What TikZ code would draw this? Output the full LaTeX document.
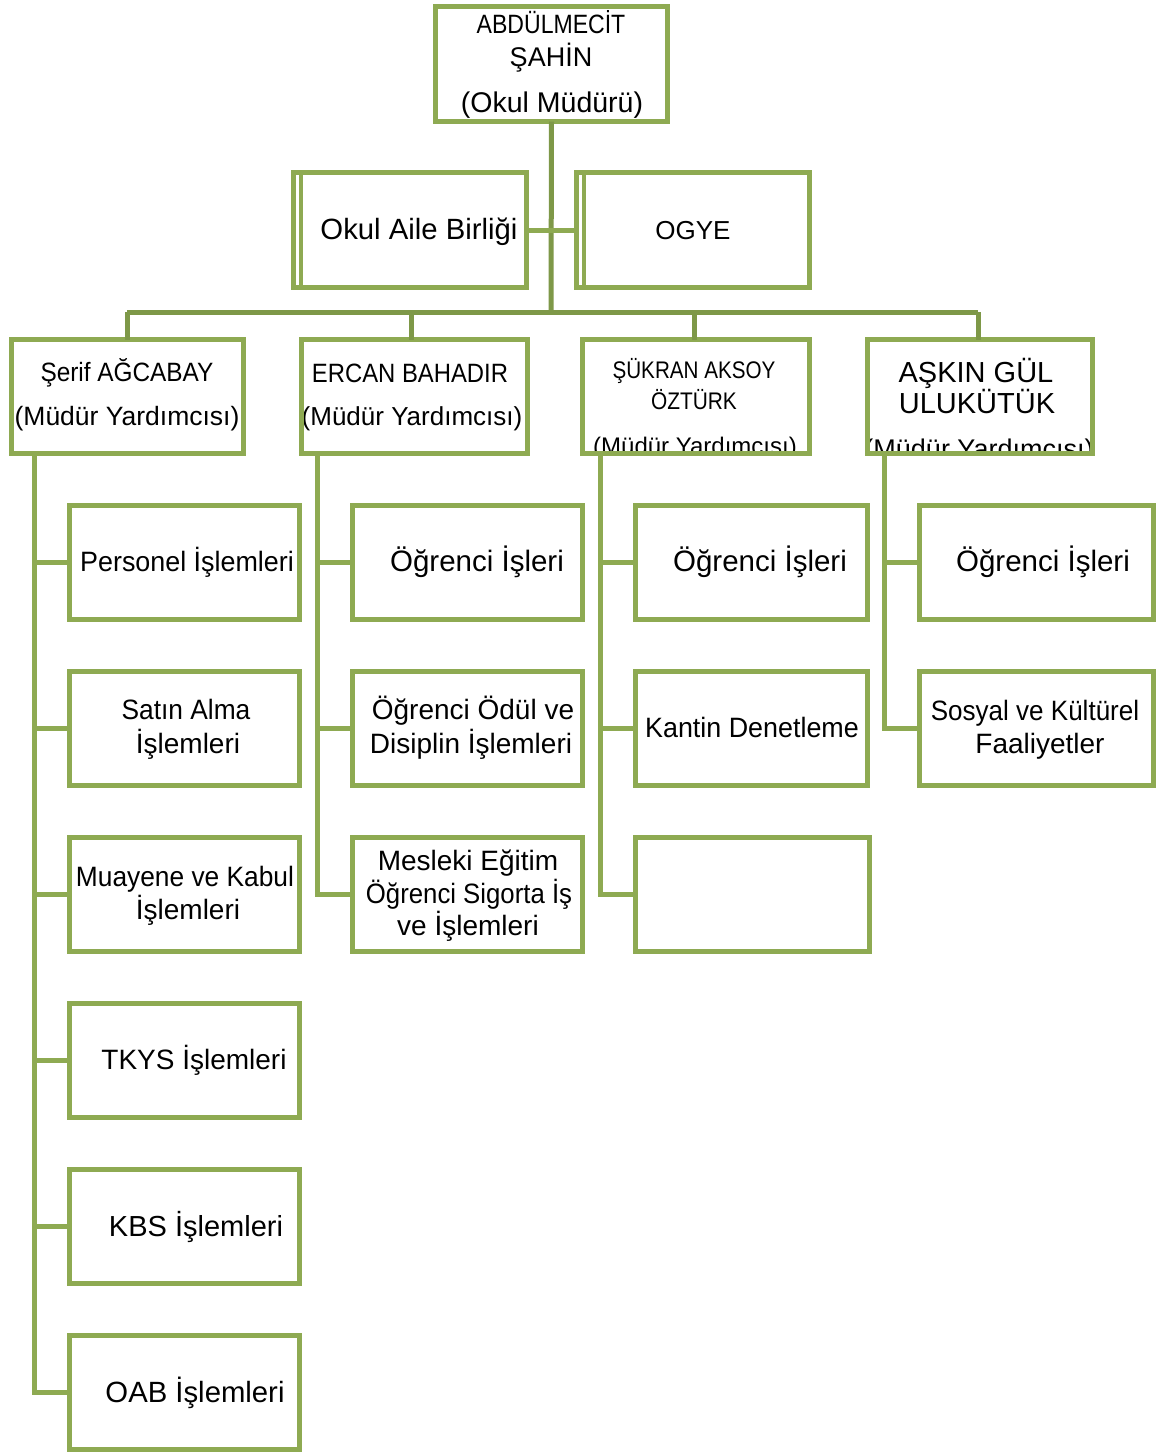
\documentclass[tikz,border=0pt]{standalone}
\usepackage{fontspec}
\setmainfont{Liberation Sans}
\usepackage{graphicx}
\definecolor{boxc}{RGB}{142,170,82}
\definecolor{linec}{RGB}{126,152,72}
\newcommand\obox[5]{%
  \pgfmathsetmacro\obcx{(#2+#4)/2}\pgfmathsetmacro\obcy{(#3+#5)/2}%
  \pgfmathsetmacro\obww{#4-#2-5}\pgfmathsetmacro\obhh{#5-#3-5}%
  \node[orgbox,minimum width=\obww pt,minimum height=\obhh pt] (#1) at (\obcx,\obcy) {};}
\newcommand\tx[5]{\node[txt] (#1) at (#2,#3) {\fontsize{#4}{#4}\selectfont #5};}
\begin{document}
\begin{tikzpicture}[x=1pt,y=-1pt,
  orgbox/.style={draw=boxc,line width=5pt,inner sep=0pt,outer sep=0pt},
  txt/.style={anchor=base,inner sep=0pt,text=black},
  trunk/.style={draw=linec,line width=5pt},
  conn/.style={draw=boxc,line width=5pt}]
\useasboundingbox[fill=white] (0,0) rectangle (1162,1452);

% ---- texts ----
\tx{t1}{551}{33}{26.5}{\scalebox{0.87}[1]{ABDÜLMECİT}}
\tx{t2}{551}{66}{27}{ŞAHİN}
\tx{t3}{552}{112}{28.5}{(Okul Müdürü)}
\tx{t4}{419}{239}{29.3}{Okul Aile Birliği}
\tx{t5}{693}{239}{26}{OGYE}
\tx{t6}{127}{381}{26.5}{\scalebox{0.92}[1]{Şerif AĞCABAY}}
\tx{t7}{127}{425}{26.5}{(Müdür Yardımcısı)}
\tx{t8}{410}{382}{26.5}{\scalebox{0.9}[1]{ERCAN BAHADIR}}
\tx{t9}{412}{425}{26}{(Müdür Yardımcısı)}
\tx{t10}{694}{378}{24}{\scalebox{0.86}[1]{ŞÜKRAN AKSOY}}
\tx{t11}{694}{409}{24}{\scalebox{0.87}[1]{ÖZTÜRK}}
\begin{scope}
\clip (583,339) rectangle (810,452);
\tx{t12}{695}{454}{24}{(Müdür Yardımcısı)}
\end{scope}
\tx{t13}{976}{382}{29}{AŞKIN GÜL}
\tx{t14}{977}{413}{29}{ULUKÜTÜK}
\begin{scope}
\clip (867,339) rectangle (1093,452);
\tx{t15}{979}{458}{27}{(Müdür Yardımcısı)}
\end{scope}
\tx{t16}{187}{571}{28}{\scalebox{0.96}[1]{Personel İşlemleri}}
\tx{t17}{186}{719}{28}{\scalebox{0.94}[1]{Satın Alma}}
\tx{t18}{188}{753}{28}{İşlemleri}
\tx{t19}{185}{886}{28}{\scalebox{0.94}[1]{Muayene ve Kabul}}
\tx{t20}{188}{919}{28}{İşlemleri}
\tx{t21}{194}{1069}{28}{TKYS İşlemleri}
\tx{t22}{196}{1236}{29}{KBS İşlemleri}
\tx{t23}{195}{1402}{29.3}{OAB İşlemleri}
\tx{t24}{477}{571}{29.5}{Öğrenci İşleri}
\tx{t25}{473}{719}{28}{Öğrenci Ödül ve}
\tx{t26}{471}{753}{28}{Disiplin İşlemleri}
\tx{t27}{468}{870}{28}{Mesleki Eğitim}
\tx{t28}{469}{903}{28}{\scalebox{0.92}[1]{Öğrenci Sigorta İş}}
\tx{t29}{468}{935}{28}{ve İşlemleri}
\tx{t30}{760}{571}{29.5}{Öğrenci İşleri}
\tx{t31}{752}{737}{28}{\scalebox{0.96}[1]{Kantin Denetleme}}
\tx{t32}{1043}{571}{29.5}{Öğrenci İşleri}
\tx{t33}{1035}{720}{28}{\scalebox{0.93}[1]{Sosyal ve Kültürel}}
\tx{t34}{1040}{753}{28}{Faaliyetler}

% ---- boxes ----
\obox{top}{433}{4}{670}{124}
\obox{oab}{291}{170}{529}{290}
\obox{ogye}{574}{170}{812}{290}
\draw[draw=boxc,line width=4pt] (oab.north west) ++(7.5,0) coordinate (oabi) -- (oabi |- oab.south);
\draw[draw=boxc,line width=4pt] (ogye.north west) ++(7.5,0) coordinate (ogyei) -- (ogyei |- ogye.south);
\obox{m1}{9}{337}{246}{456}
\obox{m2}{299}{337}{530}{456}
\obox{m3}{580}{337}{812}{456}
\obox{m4}{865}{337}{1095}{456}
% column 1
\obox{c11}{67}{503}{302}{622}
\obox{c12}{67}{669}{302}{788}
\obox{c13}{67}{835}{302}{954}
\obox{c14}{67}{1001}{302}{1120}
\obox{c15}{67}{1167}{302}{1286}
\obox{c16}{67}{1333}{302}{1452}
% column 2
\obox{c21}{350}{503}{585}{622}
\obox{c22}{350}{669}{585}{788}
\obox{c23}{350}{835}{585}{954}
% column 3
\obox{c31}{633}{503}{870}{622}
\obox{c32}{633}{669}{870}{788}
\obox{c33}{633}{835}{872}{954}
% column 4
\obox{c41}{917}{503}{1156}{622}
\obox{c42}{917}{669}{1156}{788}

% ---- connectors ----
\coordinate (bus) at (551,312);
\coordinate (d1) at (127,312);
\coordinate (d2) at (411,312);
\coordinate (d3) at (694,312);
\coordinate (d4) at (978,312);
\draw[trunk] (top.south) -- (bus);
\draw[conn] (oab.east) -- (ogye.west);
\draw[trunk] (d1) -- (d4);
\draw[trunk] (d1) -- (d1 |- m1.north);
\draw[trunk] (d2) -- (d2 |- m2.north);
\draw[trunk] (d3) -- (d3 |- m3.north);
\draw[trunk] (d4) -- (d4 |- m4.north);

\coordinate (v1) at (34,456);
\coordinate (v2) at (317,456);
\coordinate (v3) at (600,456);
\coordinate (v4) at (884,456);
\foreach \c in {c11,c12,c13,c14,c15,c16}{\draw[conn] (v1) |- (\c.west);}
\foreach \c in {c21,c22,c23}{\draw[conn] (v2) |- (\c.west);}
\foreach \c in {c31,c32,c33}{\draw[conn] (v3) |- (\c.west);}
\foreach \c in {c41,c42}{\draw[conn] (v4) |- (\c.west);}
\end{tikzpicture}
\end{document}
